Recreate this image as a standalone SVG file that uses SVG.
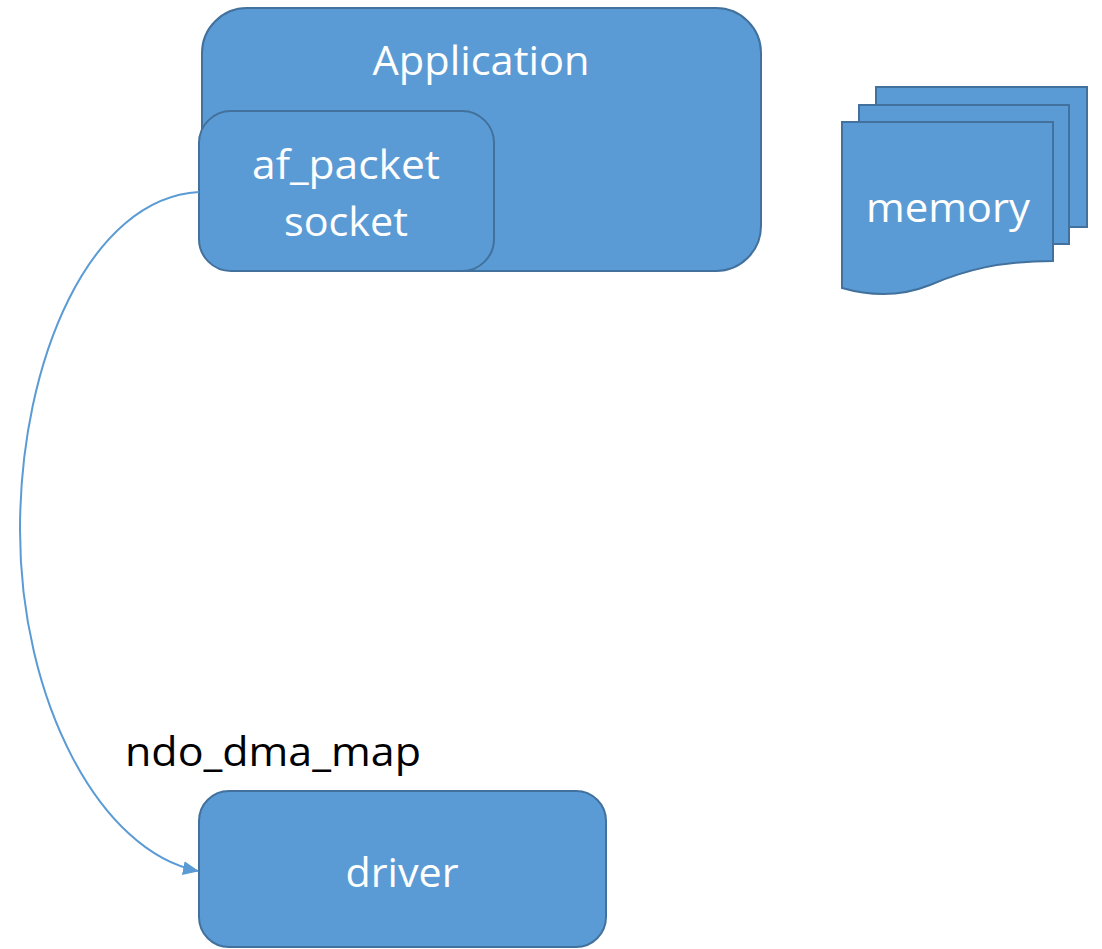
<svg xmlns="http://www.w3.org/2000/svg" width="1102" height="949" viewBox="0 0 1102 949">
<style>
.box{fill:#5B9BD5;stroke:#41719C;stroke-width:2}
.wt{fill:#FFFFFF;font-family:"Open Sans","Liberation Sans",sans-serif;font-size:40px;text-anchor:middle}
.bt{fill:#000000;font-family:"Open Sans","Liberation Sans",sans-serif;font-size:40px}
.conn{fill:none;stroke:#5B9BD5;stroke-width:2}
</style>
<defs>
<marker id="arr" markerWidth="16" markerHeight="14" refX="15" refY="7" orient="auto" markerUnits="userSpaceOnUse" viewBox="0 0 16 14">
<path d="M0,0 L16,7 L0,14 Z" fill="#5B9BD5"/>
</marker>
</defs>
<rect width="1102" height="949" fill="#FFFFFF"/>
<g id="application">
<rect class="box" x="202" y="8" width="559" height="263" rx="45" ry="45"/>
<text class="wt" x="481" y="75" textLength="217" lengthAdjust="spacingAndGlyphs">Application</text>
</g>
<g id="af_packet_socket">
<rect class="box" x="199" y="111" width="295" height="160" rx="32" ry="32"/>
<text class="wt" x="346" y="179" textLength="188" lengthAdjust="spacingAndGlyphs">af_packet</text>
<text class="wt" x="346" y="236" textLength="124" lengthAdjust="spacingAndGlyphs">socket</text>
</g>
<g id="memory">
<rect class="box" x="876" y="87" width="211" height="140"/>
<rect class="box" x="859" y="105" width="210" height="139"/>
<path class="box" d="M842,122 L1053,122 L1053,261 C1000,261 965,270 930,285 C900,297 870,296 842,288 Z"/>
<text class="wt" x="948" y="222" textLength="164" lengthAdjust="spacingAndGlyphs">memory</text>
</g>
<g id="driver">
<rect class="box" x="199" y="791" width="407" height="156" rx="30" ry="30"/>
<text class="wt" x="402" y="887" textLength="113" lengthAdjust="spacingAndGlyphs">driver</text>
</g>
<g id="connectors">
<path class="conn" d="M199,192 C90,198 20,360 20,530 C20,700 100,852 198,871" marker-end="url(#arr)"/>
<text class="bt" x="125" y="766" textLength="296" lengthAdjust="spacingAndGlyphs">ndo_dma_map</text>
</g>
</svg>
